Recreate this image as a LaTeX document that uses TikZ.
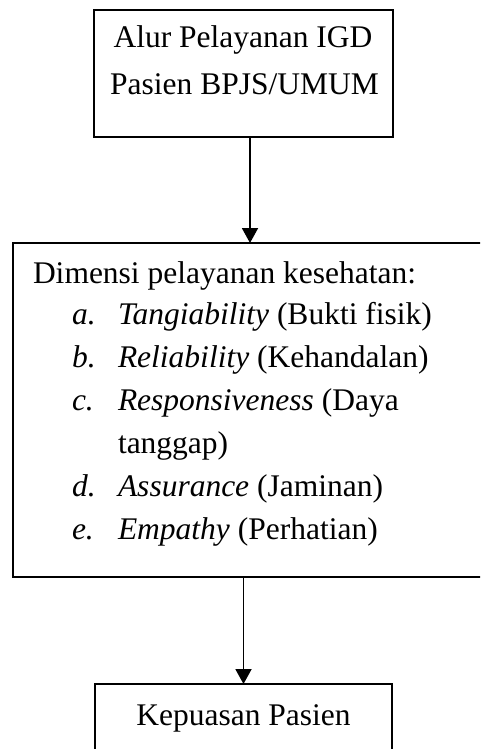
\documentclass[tikz,border=0pt]{standalone}
\usepackage{fontspec}
\setmainfont{Liberation Serif}
\usetikzlibrary{arrows.meta}
\tikzset{
  txt/.style={inner sep=0pt, outer sep=0pt, font=\fontsize{31.5}{47}\selectfont},
  boxnode/.style={draw, inner sep=0pt, outer sep=0pt, anchor=north west},
  arr/.style={line width=1.9pt, -{Triangle[length=15pt,width=16pt]}}
}
\begin{document}
\begin{tikzpicture}[x=1pt,y=-1pt]
\useasboundingbox (0,0) rectangle (480,749);
\clip (0,0) rectangle (480,749);
% boxes
\node[boxnode, line width=2pt, minimum width=299pt, minimum height=127pt] (top) at (94,10) {};
\node[boxnode, line width=2.5pt, minimum width=490pt, minimum height=334pt] (mid) at (13,243) {};
\node[boxnode, line width=1.7pt, minimum width=297pt, minimum height=120pt] (bot) at (95,684) {};
% top text
\node[txt, anchor=base] (t1) at (243,48) {Alur Pelayanan IGD};
\node[txt, anchor=base] (t2) at (244.5,95) {Pasien BPJS/UMUM};
% middle text
\node[txt, anchor=base west] (m0) at (33,283) {Dimensi pelayanan kesehatan:};
\node[txt, anchor=base west] (la) at (72,324) {\textit{a.}};
\node[txt, anchor=base west] (ma) at (118,324) {\textit{Tangiability} (Bukti fisik)};
\node[txt, anchor=base west] (lb) at (72,367) {\textit{b.}};
\node[txt, anchor=base west] (mb) at (118,367) {\textit{Reliability} (Kehandalan)};
\node[txt, anchor=base west] (lc) at (72,410) {\textit{c.}};
\node[txt, anchor=base west] (mc) at (118,410) {\textit{Responsiveness} (Daya};
\node[txt, anchor=base west] (mc2) at (118,453) {tanggap)};
\node[txt, anchor=base west] (ld) at (72,496) {\textit{d.}};
\node[txt, anchor=base west] (md) at (118,496) {\textit{Assurance} (Jaminan)};
\node[txt, anchor=base west] (le) at (72,539) {\textit{e.}};
\node[txt, anchor=base west] (me) at (118,539) {\textit{Empathy} (Perhatian)};
% bottom text
\node[txt, anchor=base] (b1) at (243.5,725) {Kepuasan Pasien};
% connectors
\draw[arr] ([xshift=6.5pt]top.south) -- ([xshift=6.5pt]top.south |- mid.north);
\draw[arr] (mid.south -| bot.north) -- (bot.north);
\end{tikzpicture}
\end{document}
